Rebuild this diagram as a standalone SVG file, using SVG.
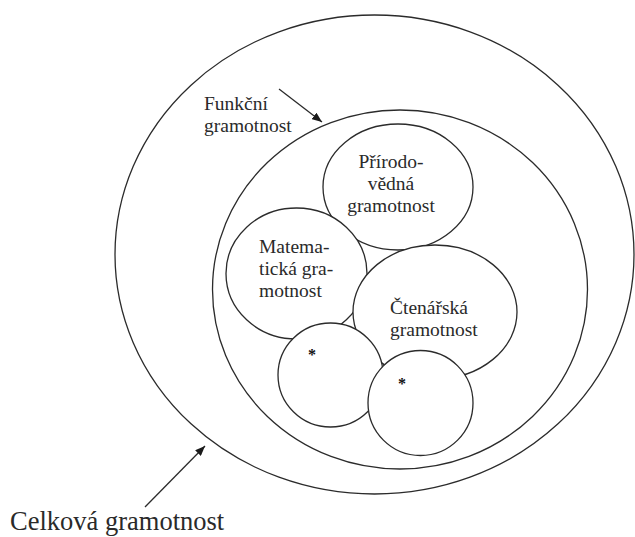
<svg xmlns="http://www.w3.org/2000/svg" width="635" height="537" viewBox="0 0 635 537">
<defs>
<style>
.e{fill:#fff;stroke:#2b2b2b;stroke-width:1.3}
.o{fill:none;stroke:#2b2b2b;stroke-width:1.3}
.t{font-family:"Liberation Serif","Times New Roman",serif;font-size:19.5px;fill:#2a2a2a}
.c{text-anchor:middle}
.s{font-family:"Liberation Serif","Times New Roman",serif;font-size:16px;font-weight:bold;fill:#111;text-anchor:middle}
.a{stroke:#2b2b2b;stroke-width:1.3;fill:none;marker-end:url(#ah)}
</style>
<marker id="ah" viewBox="0 0 10 8" refX="10" refY="4" markerWidth="10" markerHeight="8" markerUnits="userSpaceOnUse" orient="auto">
<path d="M0,0 L10,4 L0,8 Z" fill="#1a1a1a"/>
</marker>
</defs>
<rect width="635" height="537" fill="#fff"/>
<g id="celkova">
<ellipse class="o" cx="374.5" cy="254.5" rx="259.5" ry="239.5"/>
<text class="t" x="10" y="530" style="font-size:26.5px">Celková gramotnost</text>
</g>
<g id="funkcni">
<ellipse class="o" cx="400" cy="289.5" rx="187.5" ry="179.5"/>
<text class="t" x="204" y="110">Funkční</text>
<text class="t" x="204" y="132">gramotnost</text>
</g>
<g id="prirodovedna">
<ellipse class="e" cx="398" cy="187" rx="75" ry="63"/>
<text class="t c" x="391" y="168">Přírodo-</text>
<text class="t c" x="391" y="190">vědná</text>
<text class="t c" x="391" y="212">gramotnost</text>
</g>
<g id="matematicka">
<ellipse class="e" cx="296.5" cy="273.5" rx="70.5" ry="65.5"/>
<text class="t" x="259" y="253">Matema-</text>
<text class="t" x="259" y="275">tická gra-</text>
<text class="t" x="259" y="297">motnost</text>
</g>
<g id="ctenarska">
<ellipse class="e" cx="435" cy="312" rx="82" ry="67"/>
<text class="t" x="390" y="314">Čtenářská</text>
<text class="t" x="390" y="336">gramotnost</text>
</g>
<g id="dalsi1">
<ellipse class="e" cx="330.5" cy="375" rx="52.5" ry="52"/>
<text class="s" x="312" y="360">*</text>
</g>
<g id="dalsi2">
<ellipse class="e" cx="420.5" cy="403" rx="52.5" ry="52.5"/>
<text class="s" x="402" y="389">*</text>
</g>
<g id="connectors">
<line class="a" x1="279" y1="89" x2="322" y2="122"/>
<line class="a" x1="145" y1="507" x2="205" y2="446"/>
</g>
</svg>
